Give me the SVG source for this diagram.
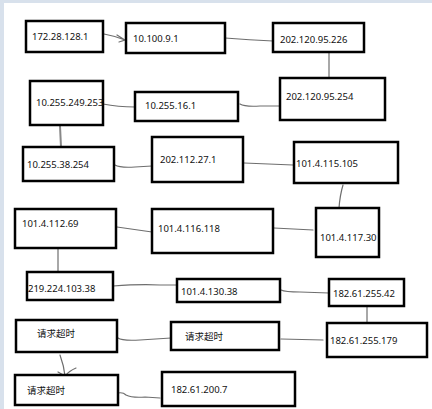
<svg xmlns="http://www.w3.org/2000/svg" width="432" height="409" viewBox="0 0 432 409">
<style>
.b{fill:#fff;stroke:#000;stroke-width:2.5}
.t{font-family:"Noto Sans","Noto Sans CJK SC",sans-serif;font-size:9.5px;fill:#111}
.c{fill:none;stroke:#6e6e6e;stroke-width:1.2;stroke-linecap:round}
</style>
<rect width="432" height="409" fill="#fff"/>
<rect width="432" height="3" fill="#d8e1ec"/>
<rect width="4" height="409" fill="#d8e1ec"/>
<g id="connectors">
<path class="c" d="M104,34 Q115,36 125,40 M117,35 L125,40 L119,42"/>
<path class="c" d="M225,38 Q250,40 273,41"/>
<path class="c" d="M329,52 L329,78"/>
<path class="c" d="M240,104 Q245,107 260,106 L280,106"/>
<path class="c" d="M103,104 Q118,107 135,107"/>
<path class="c" d="M60,126 L61,147" style="stroke-width:2;stroke:#888"/>
<path class="c" d="M115,165 Q120,168 135,167 L152,166"/>
<path class="c" d="M244,163 L293,165"/>
<path class="c" d="M343,185 Q340,195 339,208"/>
<path class="c" d="M274,228 L313,230"/>
<path class="c" d="M117,227 L152,232"/>
<path class="c" d="M58,248 L58,272"/>
<path class="c" d="M113,286 Q140,284 160,285 L177,285"/>
<path class="c" d="M281,290 Q285,292 300,292 L329,293"/>
<path class="c" d="M367,306 L367,323"/>
<path class="c" d="M281,339 L323,340"/>
<path class="c" d="M118,338 Q122,341 140,340 L171,338"/>
<path class="c" d="M60,355 Q64,366 65,376 M76,368 Q69,371 65,376 M58,372 L65,376"/>
<path class="c" d="M118,393 Q123,392 126,395 Q132,398 145,397 L160,398"/>
</g>
<g id="n1"><rect class="b" x="26" y="21" width="77" height="31"/><text class="t" x="32" y="40">172.28.128.1</text></g>
<g id="n2"><rect class="b" x="126" y="23" width="99" height="30"/><text class="t" x="133" y="42">10.100.9.1</text></g>
<g id="n3"><rect class="b" x="273" y="23" width="91" height="29"/><text class="t" x="280" y="43">202.120.95.226</text></g>
<g id="n4"><rect class="b" x="280" y="78" width="105" height="42"/><text class="t" x="286" y="100">202.120.95.254</text></g>
<g id="n5"><rect class="b" x="30" y="81" width="73" height="44"/><text class="t" x="36" y="106">10.255.249.253</text></g>
<g id="n6"><rect class="b" x="135" y="92" width="103" height="29"/><text class="t" x="145" y="109">10.255.16.1</text></g>
<g id="n7"><rect class="b" x="23" y="147" width="91" height="34"/><text class="t" x="27" y="168">10.255.38.254</text></g>
<g id="n8"><rect class="b" x="152" y="137" width="91" height="45"/><text class="t" x="160" y="163">202.112.27.1</text></g>
<g id="n9"><rect class="b" x="294" y="142" width="104" height="41"/><text class="t" x="296" y="167">101.4.115.105</text></g>
<g id="n10"><rect class="b" x="15" y="209" width="101" height="39"/><text class="t" x="22" y="227">101.4.112.69</text></g>
<g id="n11"><rect class="b" x="152" y="209" width="121" height="44"/><text class="t" x="158" y="232">101.4.116.118</text></g>
<g id="n12"><rect class="b" x="316" y="208" width="63" height="49"/><text class="t" x="320" y="241">101.4.117.30</text></g>
<g id="n13"><rect class="b" x="27" y="272" width="86" height="28"/><text class="t" x="28" y="292">219.224.103.38</text></g>
<g id="n14"><rect class="b" x="177" y="279" width="103" height="23"/><text class="t" x="181" y="295">101.4.130.38</text></g>
<g id="n15"><rect class="b" x="329" y="279" width="75" height="27"/><text class="t" x="333" y="297">182.61.255.42</text></g>
<g id="n16"><rect class="b" x="16" y="320" width="101" height="32"/><text class="t" x="37" y="337">请求超时</text></g>
<g id="n17"><rect class="b" x="171" y="322" width="108" height="28"/><text class="t" x="185" y="340">请求超时</text></g>
<g id="n18"><rect class="b" x="327" y="323" width="100" height="34"/><text class="t" x="330" y="344">182.61.255.179</text></g>
<g id="n19"><rect class="b" x="15" y="375" width="103" height="30"/><text class="t" x="27" y="394">请求超时</text></g>
<g id="n20"><rect class="b" x="162" y="372" width="133" height="34"/><text class="t" x="171" y="393">182.61.200.7</text></g>
</svg>
